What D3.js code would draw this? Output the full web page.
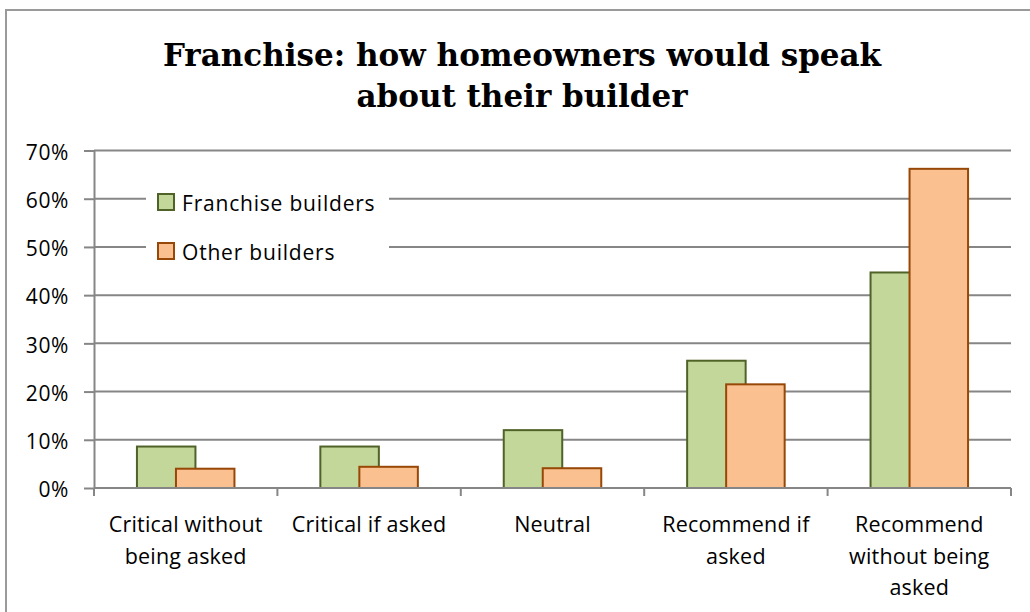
<!DOCTYPE html>
<html>
<head>
<meta charset="utf-8">
<script src="https://cdn.jsdelivr.net/npm/d3@7"></script>
<style>
  html, body { margin: 0; padding: 0; background: #fff; }
  svg { display: block; }
</style>
</head>
<body>
<svg id="chart" width="1030" height="612"></svg>
<script>
// Survey answers, as shares of homeowners (%)
const categories = [
  "Critical without being asked",
  "Critical if asked",
  "Neutral",
  "Recommend if asked",
  "Recommend without being asked"
];
// how each category name breaks onto lines under the axis
const categoryLines = [
  ["Critical without", "being asked"],
  ["Critical if asked"],
  ["Neutral"],
  ["Recommend if", "asked"],
  ["Recommend", "without being", "asked"]
];
const seriesNames = ["Franchise builders", "Other builders"];
const franchiseValues = [8.6, 8.6, 12.0, 26.4, 44.7];
const otherValues = [4.0, 4.4, 4.1, 21.5, 66.2];
const yTicks = [0, 10, 20, 30, 40, 50, 60, 70];

const titleLines = ["Franchise: how homeowners would speak", "about their builder"];

const fills = ["#C4D79B", "#FAC090"];
const strokes = ["#4F6228", "#974706"];
const axisColor = "#868686";
const sansFont = "'Open Sans', 'Noto Sans', sans-serif";

const svg = d3.select("#chart");

// outer chart frame (runs past the right and bottom edges)
svg.append("rect")
  .attr("x", 6).attr("y", 10)
  .attr("width", 1060).attr("height", 640)
  .attr("fill", "#fff")
  .attr("stroke", "#9a9a9a").attr("stroke-width", 2);

const plot = { left: 94, right: 1011, top: 150.5, bottom: 488 };

const x = d3.scaleBand()
  .domain(categories)
  .range([plot.left, plot.right])
  .padding(0);

const y = d3.scaleLinear()
  .domain([0, 70])
  .range([plot.bottom, plot.top]);

// horizontal gridlines
svg.append("g")
  .selectAll("line")
  .data(yTicks.filter(d => d > 0))
  .join("line")
  .attr("x1", plot.left).attr("x2", plot.right)
  .attr("y1", d => y(d)).attr("y2", d => y(d))
  .attr("stroke", axisColor).attr("stroke-width", 2);

// y axis with percent labels
const yAxis = d3.axisLeft(y)
  .tickValues(yTicks)
  .tickFormat(d => d + "%")
  .tickSizeInner(10)
  .tickSizeOuter(0)
  .tickPadding(15);

const yg = svg.append("g")
  .attr("transform", `translate(${plot.left},0)`)
  .call(yAxis);
yg.select(".domain").attr("stroke", axisColor).attr("stroke-width", 2);
yg.selectAll(".tick line").attr("stroke", axisColor).attr("stroke-width", 2);
yg.selectAll(".tick text")
  .attr("fill", "#000")
  .attr("font-family", sansFont)
  .attr("font-size", 21)
  .attr("letter-spacing", 0.6)
  .attr("dy", "0.42em");

// bars: the second series overlaps the first, shifted right
const step = x.step();
const barW = step * 0.319;
const shift = step * 0.2127;
const groupW = barW + shift;

const series = [franchiseValues, otherValues];
series.forEach((vals, si) => {
  svg.append("g")
    .selectAll("rect")
    .data(vals)
    .join("rect")
    .attr("x", (d, i) => x(categories[i]) + step / 2 - groupW / 2 + si * shift)
    .attr("y", d => y(d))
    .attr("width", barW)
    .attr("height", d => y(0) - y(d))
    .attr("fill", fills[si])
    .attr("stroke", strokes[si])
    .attr("stroke-width", 2);
});

// x axis line and boundary ticks
const xg = svg.append("g");
xg.append("line")
  .attr("x1", plot.left).attr("x2", plot.right)
  .attr("y1", y(0)).attr("y2", y(0))
  .attr("stroke", axisColor).attr("stroke-width", 2);
const bounds = categories.map(c => x(c)).concat([x(categories[categories.length - 1]) + step]);
xg.selectAll("line.b")
  .data(bounds)
  .join("line")
  .attr("class", "b")
  .attr("x1", d => d).attr("x2", d => d)
  .attr("y1", y(0)).attr("y2", y(0) + 8)
  .attr("stroke", axisColor).attr("stroke-width", 2);

// category labels
categories.forEach((c, i) => {
  const t = xg.append("text")
    .attr("x", x(c) + step / 2)
    .attr("y", 532)
    .attr("text-anchor", "middle")
    .attr("font-family", sansFont)
    .attr("font-size", 21.5)
    .attr("letter-spacing", 0.2)
    .attr("fill", "#000");
  categoryLines[i].forEach((ln, k) => {
    t.append("tspan")
      .attr("x", x(c) + step / 2)
      .attr("dy", k === 0 ? 0 : 31.7)
      .text(ln);
  });
});

// legend, on a white box over the gridlines
const legend = svg.append("g");
legend.append("rect")
  .attr("x", 146).attr("y", 176)
  .attr("width", 243).attr("height", 96)
  .attr("fill", "#fff");
seriesNames.forEach((name, i) => {
  const gy = 194 + i * 49;
  legend.append("rect")
    .attr("x", 158).attr("y", gy)
    .attr("width", 16).attr("height", 16)
    .attr("fill", fills[i])
    .attr("stroke", strokes[i])
    .attr("stroke-width", 2);
  legend.append("text")
    .attr("x", 182).attr("y", gy + 17)
    .attr("font-family", sansFont)
    .attr("font-size", 21)
    .attr("letter-spacing", 0.8)
    .attr("fill", "#000")
    .text(name);
});

// title
const title = svg.append("text")
  .attr("text-anchor", "middle")
  .attr("font-family", "'DejaVu Serif', 'Liberation Serif', serif")
  .attr("font-weight", "bold")
  .attr("font-size", 31)
  .attr("fill", "#000");
titleLines.forEach((ln, k) => {
  title.append("tspan")
    .attr("x", 522)
    .attr("y", 66 + k * 41)
    .text(ln);
});
</script>
</body>
</html>
